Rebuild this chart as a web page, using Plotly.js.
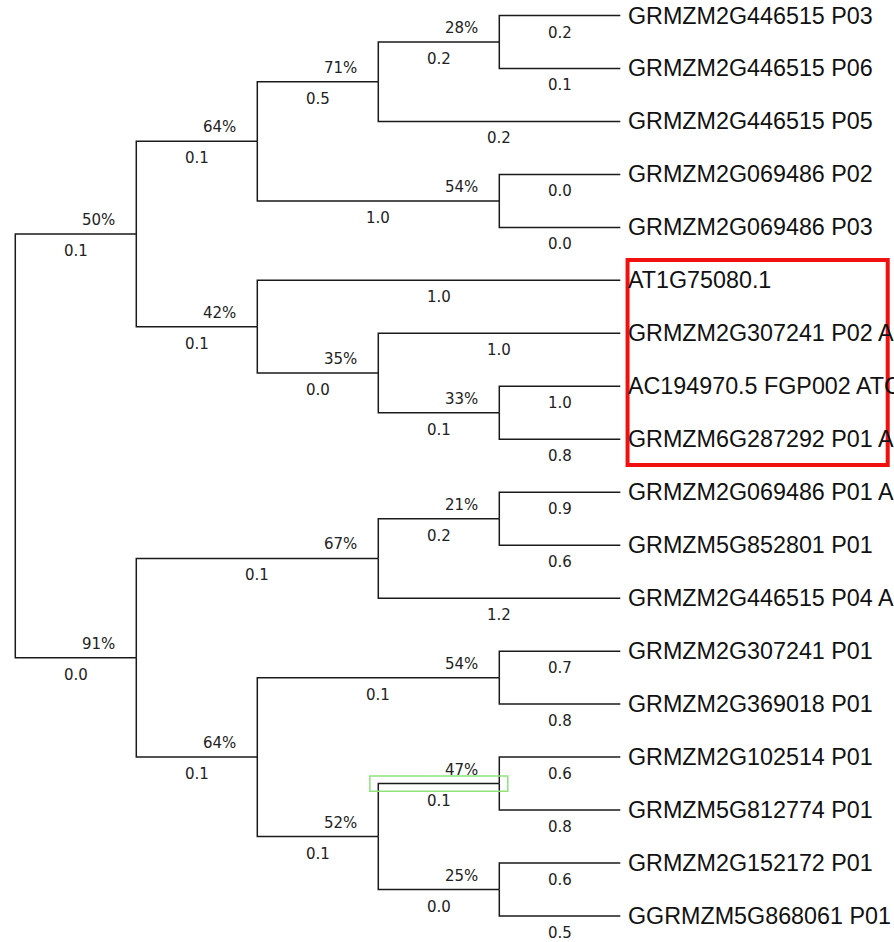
<!DOCTYPE html>
<html>
<head>
<meta charset="utf-8">
<script src="https://cdn.plot.ly/plotly-3.0.1.min.js"></script>
<style>html,body{margin:0;padding:0;background:#fff;overflow:hidden;}</style>
</head>
<body>
<div id="chart" style="width:894px;height:942px;"></div>
<script>
// ---- Tree data ----
// Internal nodes (index 0 = root)
const nodeParent    = [-1, 0, 1, 2, 3, 2, 1, 6, 7, 0, 9, 10, 9, 12, 12, 14, 14];
const nodeBootstrap = ["", "50%", "64%", "71%", "28%", "54%", "42%", "35%", "33%", "91%", "67%", "21%", "64%", "54%", "52%", "47%", "25%"];
const nodeLength    = ["", "0.1", "0.1", "0.5", "0.2", "1.0", "0.1", "0.0", "0.1", "0.0", "0.1", "0.2", "0.1", "0.1", "0.1", "0.1", "0.0"];

// Leaves (top to bottom)
const leafNames = [
  "GRMZM2G446515 P03", "GRMZM2G446515 P06", "GRMZM2G446515 P05",
  "GRMZM2G069486 P02", "GRMZM2G069486 P03", "AT1G75080.1",
  "GRMZM2G307241 P02 A", "AC194970.5 FGP002 ATC", "GRMZM6G287292 P01 A",
  "GRMZM2G069486 P01 A", "GRMZM5G852801 P01", "GRMZM2G446515 P04 A",
  "GRMZM2G307241 P01", "GRMZM2G369018 P01", "GRMZM2G102514 P01",
  "GRMZM5G812774 P01", "GRMZM2G152172 P01", "GGRMZM5G868061 P01"
];
const leafParent = [4, 4, 3, 5, 5, 6, 7, 8, 8, 11, 11, 10, 13, 13, 15, 15, 16, 16];
const leafLength = ["0.2", "0.1", "0.2", "0.0", "0.0", "1.0", "1.0", "1.0", "0.8", "0.9", "0.6", "1.2", "0.7", "0.8", "0.6", "0.8", "0.6", "0.5"];

// Highlights
const redBoxLeaves = [5, 8];     // leaf range in red box
const greenBoxNode = 15;         // node whose branch is outlined in green

// ---- Layout computation (cladogram) ----
const nN = nodeParent.length, nL = leafNames.length;
const children = Array.from({length: nN}, () => []);
for (let i = 0; i < nN; i++) if (nodeParent[i] >= 0) children[nodeParent[i]].push({t: 'n', i});
for (let i = 0; i < nL; i++) children[leafParent[i]].push({t: 'l', i});

const height = new Array(nN).fill(-1);
const nodeY = new Array(nN).fill(null);
function yOf(c) { return c.t === 'l' ? c.i : nodeY[c.i]; }
function hOf(c) { return c.t === 'l' ? 0 : height[c.i]; }
function compute(n) {
  let h = 0, ys = [];
  for (const c of children[n]) {
    if (c.t === 'n') compute(c.i);
    h = Math.max(h, hOf(c) + 1);
    ys.push(yOf(c));
  }
  height[n] = h;
  nodeY[n] = (Math.min(...ys) + Math.max(...ys)) / 2;
}
compute(0);
const maxH = height[0];
const nodeX = height.map(h => maxH - h);
const leafX = maxH;

const lx = [], ly = [];
const ann = [];
const numFont = {family: "DejaVu Sans, Verdana, sans-serif", size: 15, color: "#222"};
const nameFont = {family: "Liberation Sans, Arial, sans-serif", size: 23.3, color: "#111"};

function addBranch(px, py, cx, cy, len, boot) {
  lx.push(px, px, cx, null);
  ly.push(py, cy, cy, null);
  ann.push({x: (px + cx) / 2, y: cy, xref: 'x', yref: 'y', text: len, showarrow: false,
            xanchor: 'center', yanchor: 'middle', yshift: -17, font: numFont});
  if (boot) ann.push({x: cx, y: cy, xref: 'x', yref: 'y', text: boot, showarrow: false,
            xanchor: 'right', yanchor: 'middle', xshift: -19, yshift: 14, font: numFont});
}
for (let i = 1; i < nN; i++) {
  const p = nodeParent[i];
  addBranch(nodeX[p], nodeY[p], nodeX[i], nodeY[i], nodeLength[i], nodeBootstrap[i]);
}
for (let i = 0; i < nL; i++) {
  const p = leafParent[i];
  addBranch(nodeX[p], nodeY[p], leafX, i, leafLength[i], null);
  ann.push({x: leafX, y: i, xref: 'x', yref: 'y', text: leafNames[i], showarrow: false,
            xanchor: 'left', yanchor: 'middle', xshift: 6, font: nameFont});
}

const gN = greenBoxNode, gP = nodeParent[gN];
const shapes = [
  {type: 'rect', xref: 'x', yref: 'y', x0: leafX + 0.06, x1: 7.21,
   y0: redBoxLeaves[0] - 0.385, y1: redBoxLeaves[1] + 0.485,
   line: {color: '#f01010', width: 4}, fillcolor: 'rgba(0,0,0,0)'},
  {type: 'rect', xref: 'x', yref: 'y', x0: nodeX[gP] - 0.07, x1: nodeX[gN] + 0.07,
   y0: nodeY[gN] - 0.145, y1: nodeY[gN] + 0.145,
   line: {color: '#8fe37a', width: 1.5}, fillcolor: 'rgba(0,0,0,0)'}
];

const trace = {x: lx, y: ly, mode: 'lines', type: 'scatter', hoverinfo: 'skip',
               line: {color: '#1a1a1a', width: 1.5}, showlegend: false, cliponaxis: false};

const layout = {
  width: 894, height: 942,
  margin: {l: 0, r: 0, t: 0, b: 0},
  paper_bgcolor: '#fff', plot_bgcolor: '#fff',
  xaxis: {range: [-0.1264, 7.262], visible: false, fixedrange: true},
  yaxis: {range: [17.491, -0.2926], visible: false, fixedrange: true},
  annotations: ann,
  shapes: shapes,
  showlegend: false
};
Plotly.newPlot('chart', [trace], layout, {staticPlot: true, displayModeBar: false});
</script>
</body>
</html>
